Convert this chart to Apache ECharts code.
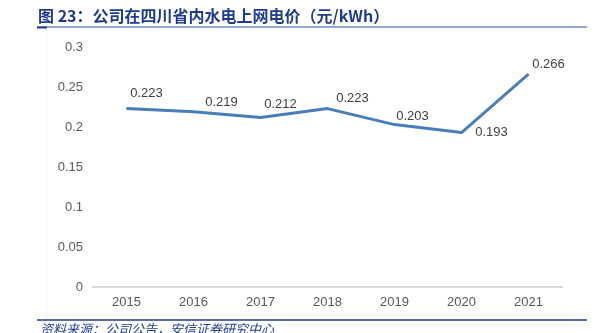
<!DOCTYPE html>
<html>
<head>
<meta charset="utf-8">
<script src="https://cdn.jsdelivr.net/npm/echarts@6/dist/echarts.min.js"></script>
<style>
html,body{margin:0;padding:0;background:#fff;}
#chart{width:616px;height:333px;}
</style>
</head>
<body>
<div id="chart"></div>
<script>
const years = ['2015', '2016', '2017', '2018', '2019', '2020', '2021'];
const prices = [0.223, 0.219, 0.212, 0.223, 0.203, 0.193, 0.266];
const yTicks = ['0', '0.05', '0.1', '0.15', '0.2', '0.25', '0.3'];
const labelOffsets = [[20, -15], [28, -9], [20, -13], [25, -10], [18, -8], [30, 0], [20, -10]];

const titleText = '图 23：公司在四川省内水电上网电价（元/kWh）';
const sourceText = '资料来源：公司公告，安信证券研究中心';

const chart = echarts.init(document.getElementById('chart'), null, {renderer: 'canvas'});
const navy = '#1F3C8C';
const font = '"Liberation Sans", Arial, "Noto Sans CJK SC", sans-serif';

chart.setOption({
  animation: false,
  backgroundColor: '#fff',
  title: {
    text: titleText,
    left: 38,
    top: 8,
    padding: 0,
    textStyle: {
      color: navy,
      fontSize: 16,
      fontWeight: 'bold',
      fontFamily: '"Noto Sans CJK SC", "Liberation Sans", sans-serif'
    }
  },
  grid: {left: 93, right: 54, top: 47, bottom: 46, containLabel: false},
  xAxis: {
    type: 'category',
    data: years,
    boundaryGap: true,
    axisLine: {show: true, lineStyle: {color: '#D9D9D9', width: 2}},
    axisTick: {show: false},
    axisLabel: {color: '#595959', fontSize: 13, fontFamily: font, margin: 9}
  },
  yAxis: {
    type: 'value',
    min: 0,
    max: 0.3,
    interval: 0.05,
    axisLine: {show: false},
    axisTick: {show: false},
    splitLine: {show: false},
    axisLabel: {
      color: '#595959',
      fontSize: 13,
      fontFamily: font,
      margin: 10,
      formatter: function (v) { return yTicks[Math.round(v / 0.05)]; }
    }
  },
  series: [{
    type: 'line',
    data: prices.map(function (v, i) {
      return {value: v, label: {offset: labelOffsets[i]}};
    }),
    symbol: 'circle',
    symbolSize: 1,
    showSymbol: true,
    lineStyle: {color: '#4A7EBB', width: 3},
    itemStyle: {color: '#4A7EBB'},
    label: {
      show: true,
      position: 'inside',
      color: '#404040',
      fontSize: 13,
      fontFamily: font,
      formatter: function (p) { return p.value.toFixed(3); }
    },
    z: 3
  }],
  graphic: [
    {type: 'line', shape: {x1: 37, y1: 27, x2: 587, y2: 27}, style: {stroke: '#2B4EA8', lineWidth: 1}},
    {type: 'line', shape: {x1: 37, y1: 27.5, x2: 47, y2: 27.5}, style: {stroke: navy, lineWidth: 2}},
    {type: 'line', shape: {x1: 47, y1: 29, x2: 47, y2: 318}, style: {stroke: '#F6F6F6', lineWidth: 1}},
    {type: 'line', shape: {x1: 37, y1: 320, x2: 587, y2: 320}, style: {stroke: navy, lineWidth: 1.5}},
    {
      type: 'text', left: 40, top: 323,
      style: {
        text: sourceText,
        fill: navy,
        fontSize: 13,
        fontStyle: 'italic',
        fontFamily: '"Noto Sans CJK SC", sans-serif'
      }
    }
  ]
});
</script>
</body>
</html>
